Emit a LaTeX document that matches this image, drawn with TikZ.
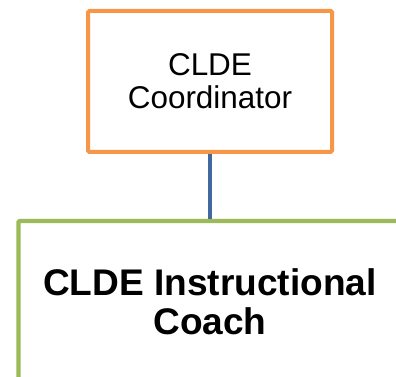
\documentclass[tikz,border=0pt]{standalone}
\usepackage{fontspec}
\setmainfont{Liberation Sans}
\definecolor{boxorange}{HTML}{F79646}
\definecolor{boxgreen}{HTML}{9BBB59}
\definecolor{lineblue}{HTML}{41699F}
\tikzset{
  chartbox/.style={draw, line width=3pt, rounded corners=1pt, align=center, fill=white},
}
\begin{document}
\begin{tikzpicture}[x=0.75pt,y=-0.75pt]
      \useasboundingbox (0,0) rectangle (396,377);
      \clip (0,0) rectangle (396,377);
      \draw
        (210,81.5) node[chartbox, draw=boxorange, minimum width=183pt, minimum height=105.75pt,
          font=\fontsize{23.6}{25}\selectfont] (coord){CLDE\\Coordinator}
        (210,302) node[chartbox, draw=boxgreen, line width=3.3pt, minimum width=287.25pt, minimum height=121.5pt,
          font=\bfseries\fontsize{27.8}{29.3}\selectfont] (coach){CLDE Instructional\\Coach};
      \begin{scope}[-]
        \draw[lineblue, line width=3pt] (coord) to (coach);
      \end{scope}
    \end{tikzpicture}
\end{document}
